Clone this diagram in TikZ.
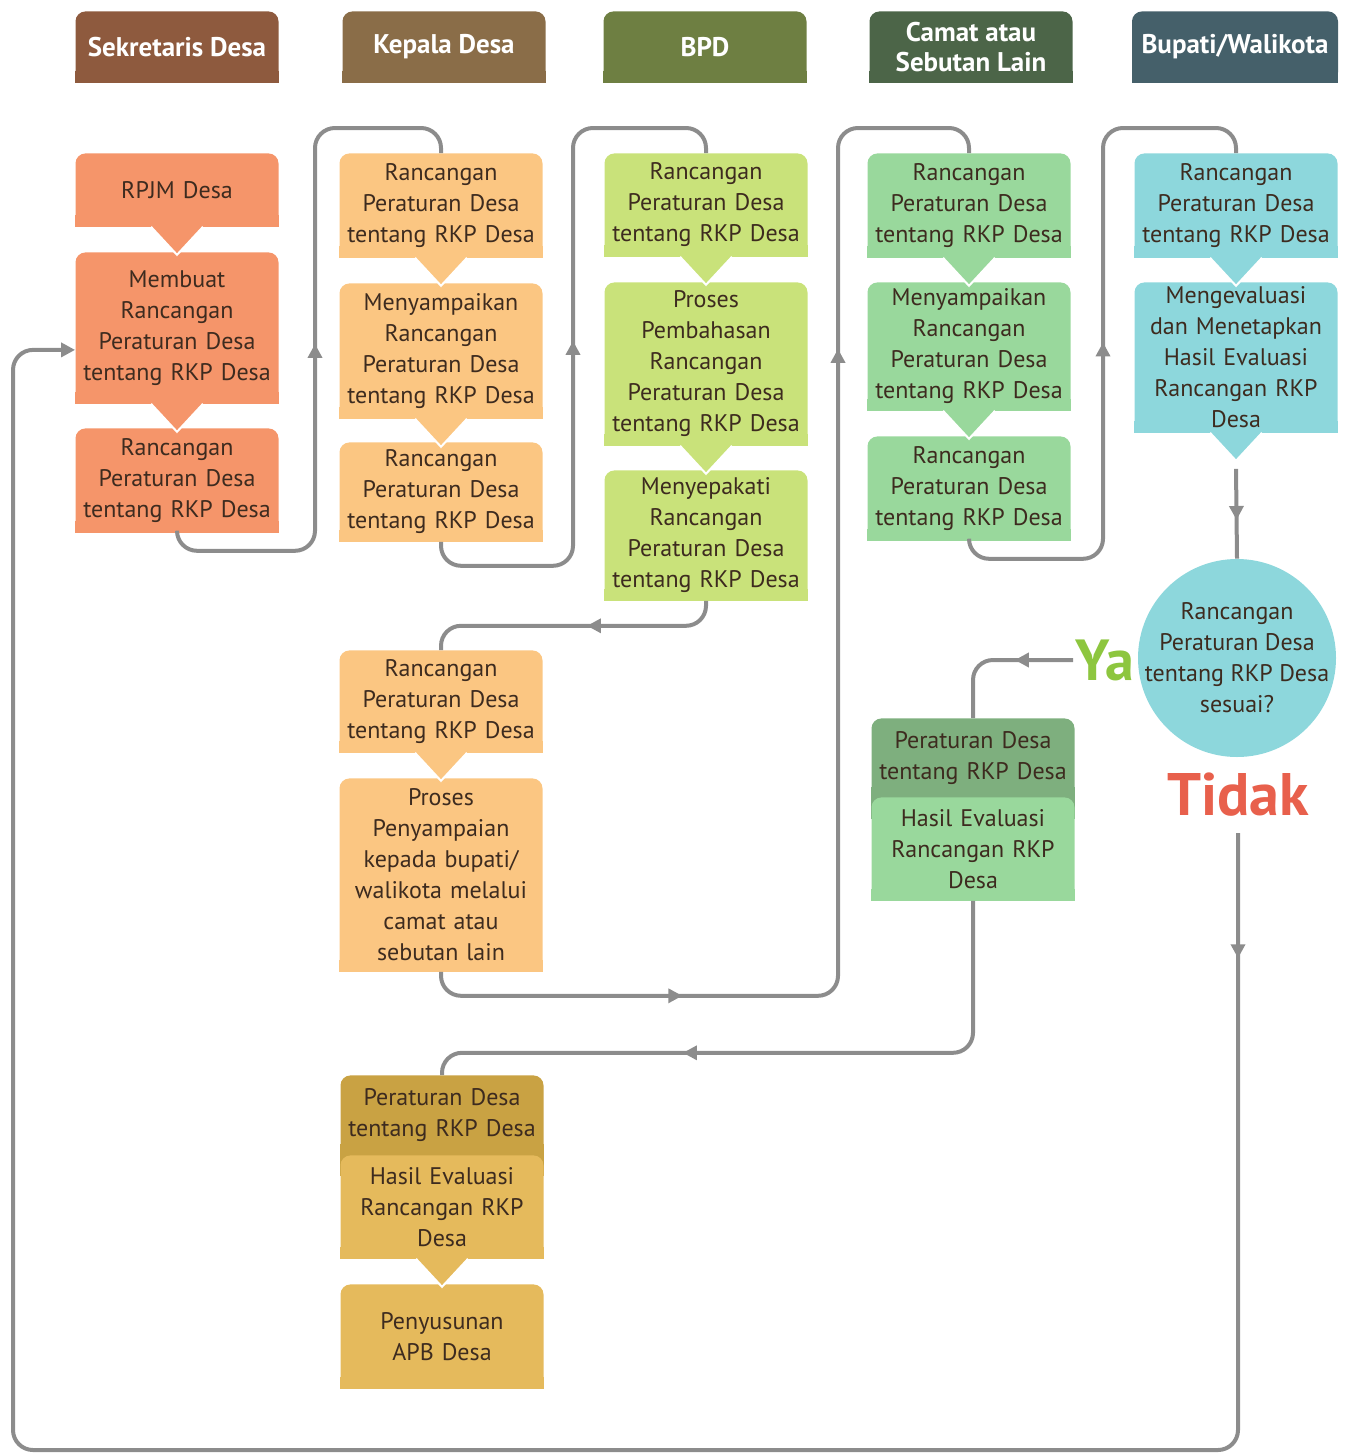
\documentclass[tikz,border=0pt]{standalone}
\usepackage{fontspec}
\setmainfont{PT Sans}
\usetikzlibrary{arrows.meta,decorations.markings,calc,backgrounds}

\definecolor{sekHead}{HTML}{8E5A3E}
\definecolor{kdHead}{HTML}{8A6D48}
\definecolor{bpdHead}{HTML}{6E7F42}
\definecolor{camHead}{HTML}{4C6548}
\definecolor{bupHead}{HTML}{45606A}
\definecolor{sekFill}{HTML}{F5956A}
\definecolor{kdFill}{HTML}{FBC682}
\definecolor{bpdFill}{HTML}{C9E27A}
\definecolor{camFill}{HTML}{99D89C}
\definecolor{camDark}{HTML}{7EAF7E}
\definecolor{bupFill}{HTML}{8DD7DC}
\definecolor{goldDark}{HTML}{C9A243}
\definecolor{goldFill}{HTML}{E5BA5C}
\definecolor{txt}{HTML}{3D2B1F}
\definecolor{linkGray}{HTML}{8C8C8C}
\definecolor{yaGreen}{HTML}{8DC63F}
\definecolor{tidakRed}{HTML}{E8604C}

\tikzset{
  headbox/.style={fill=#1, rounded corners=5pt, text=white, font=\bfseries\fontsize{13.5}{15}\selectfont,
    minimum width=101.5pt, minimum height=35.5pt, align=center, anchor=north},
  procbox/.style={fill=#1, rounded corners=5pt, text=txt, font=\fontsize{12}{15.5}\selectfont,
    text width=100pt, inner xsep=0.75pt, inner ysep=0pt, align=center, anchor=north},
  link/.style={draw=linkGray, line width=2pt, rounded corners=10pt},
  midarrow/.style={postaction={decorate, decoration={markings,
    mark=at position #1 with {\arrow[sharp corners]{Triangle[length=7pt,width=7pt]}}}}},
}

\begin{document}
\begin{tikzpicture}[x=0.5pt, y=-0.5pt]
    \useasboundingbox (0,0) rectangle (1344,1456);

    % headers
    \node[headbox=sekHead] (hsek) at (177,11) {Sekretaris Desa};
    \node[headbox=kdHead] (hkd) at (444,11) {Kepala Desa};
    \node[headbox=bpdHead] (hbpd) at (705,11) {BPD};
    \node[headbox=camHead] (hcam) at (971,11) {Camat atau\\Sebutan Lain};
    \node[headbox=bupHead, minimum width=103pt] (hbup) at (1235,11) {Bupati/Walikota};

    % Sekretaris Desa
    \node[procbox=sekFill, minimum height=36.5pt] (rpjm) at (177,153) {RPJM Desa};
    \node[procbox=sekFill, minimum height=75.5pt] (membuat) at (177,252) {Membuat\\Rancangan\\Peraturan Desa\\tentang RKP Desa};
    \node[procbox=sekFill, minimum height=52pt] (sek3) at (177,428) {Rancangan\\Peraturan Desa\\tentang RKP Desa};

    % Kepala Desa
    \node[procbox=kdFill, minimum height=52pt] (kd1) at (441,153) {Rancangan\\Peraturan Desa\\tentang RKP Desa};
    \node[procbox=kdFill, minimum height=67.5pt] (kd2) at (441,283) {Menyampaikan\\Rancangan\\Peraturan Desa\\tentang RKP Desa};
    \node[procbox=kdFill, minimum height=49.5pt] (kd3) at (441,442) {Rancangan\\Peraturan Desa\\tentang RKP Desa};
    \node[procbox=kdFill, minimum height=51pt] (kd4) at (441,650) {Rancangan\\Peraturan Desa\\tentang RKP Desa};
    \node[procbox=kdFill, minimum height=96.5pt] (kd5) at (441,778) {Proses\\Penyampaian\\kepada bupati/\\walikota melalui\\camat atau\\sebutan lain};

    % BPD
    \node[procbox=bpdFill, minimum height=51.5pt] (bpd1) at (706,153) {Rancangan\\Peraturan Desa\\tentang RKP Desa};
    \node[procbox=bpdFill, minimum height=81.5pt] (bpd2) at (706,282) {Proses\\Pembahasan\\Rancangan\\Peraturan Desa\\tentang RKP Desa};
    \node[procbox=bpdFill, minimum height=65pt] (bpd3) at (706,470) {Menyepakati\\Rancangan\\Peraturan Desa\\tentang RKP Desa};

    % Camat
    \node[procbox=camFill, minimum height=52pt] (cam1) at (969,153) {Rancangan\\Peraturan Desa\\tentang RKP Desa};
    \node[procbox=camFill, minimum height=64pt] (cam2) at (969,282) {Menyampaikan\\Rancangan\\Peraturan Desa\\tentang RKP Desa};
    \node[procbox=camFill, minimum height=52pt] (cam3) at (969,436) {Rancangan\\Peraturan Desa\\tentang RKP Desa};
    \node[procbox=camDark, minimum height=40pt] (cam4) at (973,718) {Peraturan Desa\\tentang RKP Desa};
    \fill[camDark] ([yshift=6pt]cam4.south west) rectangle ([yshift=-10pt]cam4.south east);
    \node[procbox=camFill, minimum height=51.5pt] (cam5) at (973,797) {Hasil Evaluasi\\Rancangan RKP\\Desa};

    % Bupati/Walikota
    \node[procbox=bupFill, minimum height=52pt] (bup1) at (1236,153) {Rancangan\\Peraturan Desa\\tentang RKP Desa};
    \node[procbox=bupFill, minimum height=75pt] (bup2) at (1236,282) {Mengevaluasi\\dan Menetapkan\\Hasil Evaluasi\\Rancangan RKP\\Desa};
    \node[circle, fill=bupFill, minimum size=99pt, inner sep=-7pt, align=center, text=txt,
        font=\fontsize{12}{15.5}\selectfont] (cek) at (1237,658) {Rancangan\\Peraturan Desa\\tentang RKP Desa\\sesuai?};
    \node[text=yaGreen, font=\bfseries\fontsize{29}{29}\selectfont, inner sep=1pt] (ya) at (1105,660) {Ya};
    \node[text=tidakRed, font=\bfseries\fontsize{30}{30}\selectfont, inner sep=1pt] (tidak) at (1238,795) {Tidak};

    % hasil akhir
    \node[procbox=goldDark, minimum height=40pt] (g1) at (442,1075) {Peraturan Desa\\tentang RKP Desa};
    \fill[goldDark] ([yshift=6pt]g1.south west) rectangle ([yshift=-10pt]g1.south east);
    \node[procbox=goldFill, minimum height=51.5pt] (g2) at (442,1155) {Hasil Evaluasi\\Rancangan RKP\\Desa};
    \node[procbox=goldFill, minimum height=52pt] (g3) at (442,1284) {Penyusunan\\APB Desa};

    % square bottoms
    \begin{scope}[on background layer]
    \foreach \nm/\clr in {hsek/sekHead, hkd/kdHead, hbpd/bpdHead, hcam/camHead, hbup/bupHead,
        rpjm/sekFill, membuat/sekFill, sek3/sekFill, kd1/kdFill, kd2/kdFill, kd3/kdFill, kd4/kdFill, kd5/kdFill,
        bpd1/bpdFill, bpd2/bpdFill, bpd3/bpdFill, cam1/camFill, cam2/camFill, cam3/camFill, cam5/camFill,
        bup1/bupFill, bup2/bupFill, g2/goldFill, g3/goldFill}
        \fill[\clr] ([yshift=6pt]\nm.south west) rectangle (\nm.south east);
    \end{scope}

    % pointers
    \foreach \nm/\clr in {rpjm/sekFill, membuat/sekFill, kd1/kdFill, kd2/kdFill, kd4/kdFill,
        bpd1/bpdFill, bpd2/bpdFill, cam1/camFill, cam2/camFill, bup1/bupFill, bup2/bupFill, g2/goldFill}
        \filldraw[fill=\clr, draw=white, line width=1pt] ([xshift=-13pt]\nm.south) -- ([yshift=-14pt]\nm.south) -- ([xshift=13pt]\nm.south);

    % connectors
    \draw[link, midarrow=0.5] (sek3.south) -- ++(0,18) -| (315,128) -| (kd1.north);
    \draw[link, midarrow=0.507] (kd3.south) -- ++(0,24) -| (573,128) -| (bpd1.north);
    \draw[link, midarrow=0.456] (bpd3.south) -- ++(0,25) -| (kd4.north);
    \draw[link, midarrow=0.182, midarrow=0.745] (kd5.south) -- ++(0,24) -| (838,128) -| (cam1.north);
    \draw[link, midarrow=0.5] (cam3.south) -- ++(0,18) -| (1103,128) -| (bup1.north);
    \draw[link, midarrow=0.57] (bup2.south) ++(0,36) -- (cek.north);
    \draw[link, midarrow=0.39] (ya.west) -| (cam4.north);
    \draw[link, midarrow=0.63] (cam5.south) -- ++(0,152) -| (g1.north);
    \draw[link, -{Triangle[length=7pt,width=7pt]}, midarrow=0.042] (tidak.south) ++(0,14) |- (13,1450) |- ($(membuat.west)+(0,22)$);
\end{tikzpicture}
\end{document}
